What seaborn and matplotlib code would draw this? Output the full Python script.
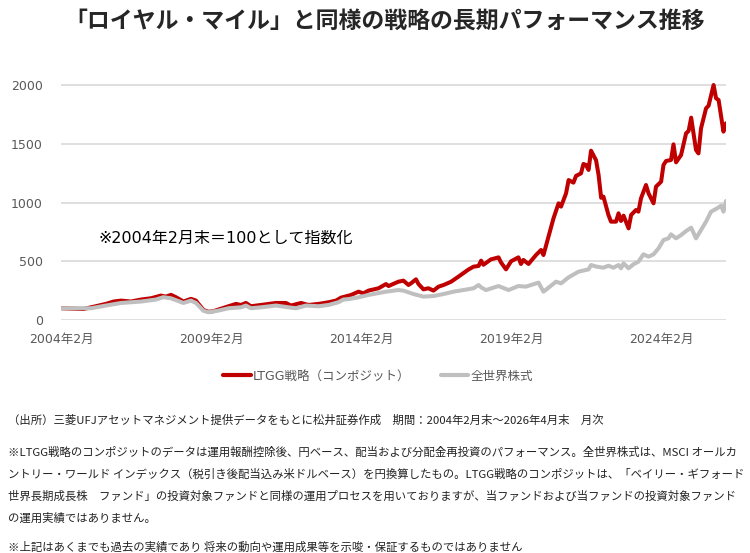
import pandas as pd
import numpy as np
import matplotlib
matplotlib.use("Agg")
import matplotlib.pyplot as plt
import seaborn as sns

# months counted from 2004-02 (0) up to 2026-04 (266)
red_months = [0, 9, 12, 18, 21, 24, 28, 32, 36, 40, 42, 44, 46, 49, 52, 54, 55, 57, 59, 61,
              63, 67, 70, 72, 74, 76, 80, 86, 90, 92, 96, 99, 103, 107, 110, 112, 116, 119,
              121, 123, 127, 130, 131, 135, 137, 139, 140, 142, 143, 145, 147, 149, 151, 153,
              156, 159, 163, 165, 167, 168, 169, 172, 175, 176, 178, 180, 183, 184, 185, 187,
              190, 192, 193, 195, 197, 199, 200, 202, 203, 205, 206, 208, 209, 210, 211, 212,
              214, 215, 216, 217, 219, 220, 222, 223, 224, 225, 227, 228, 230, 231, 232, 234,
              235, 237, 238, 240, 241, 242, 244, 245, 246, 248, 250, 251, 252, 254, 255, 256,
              258, 259, 261, 262, 263, 264, 265, 266]
red_vals = [100, 94, 108, 137, 157, 165, 157, 174, 185, 208, 199, 214, 194, 157, 180, 165, 137, 85, 70, 75,
            89, 117, 137, 128, 145, 117, 128, 145, 145, 123, 145, 128, 137, 151, 165, 190, 213, 241,
            227, 250, 270, 306, 289, 326, 335, 298, 312, 346, 306, 261, 270, 250, 284, 298,
            326, 369, 430, 454, 460, 505, 470, 516, 533, 490, 431, 500, 533, 477, 511, 477,
            553, 596, 553, 709, 865, 993, 965, 1078, 1191, 1169, 1226, 1248, 1328, 1319, 1277, 1441,
            1360, 1234, 1040, 1050, 894, 837, 837, 908, 843, 888, 780, 894, 936, 922, 1035, 1149,
            1078, 993, 1135, 1177, 1319, 1353, 1362, 1495, 1342, 1404, 1589, 1609, 1722, 1447, 1418, 1631,
            1801, 1824, 2000, 1887, 1872, 1731, 1603, 1674]

gray_months = [0, 12, 18, 24, 32, 38, 41, 44, 49, 52, 54, 57, 59, 63, 67, 72, 74, 76, 80, 86,
               91, 94, 98, 103, 107, 111, 113, 115, 119, 123, 130, 135, 137, 141, 145, 149, 153,
               157, 161, 165, 167, 168, 170, 175, 179, 183, 186, 191, 193, 198, 200, 203, 207,
               211, 212, 214, 217, 219, 221, 223, 224, 225, 227, 229, 231, 233, 235, 237, 239,
               241, 243, 244, 246, 248, 250, 252, 254, 256, 258, 260, 262, 264, 265, 266]
gray_vals = [100, 100, 123, 145, 157, 174, 194, 185, 145, 165, 145, 78, 66, 80, 100, 108, 123, 100, 108, 123,
             108, 100, 123, 117, 128, 151, 174, 178, 193, 213, 241, 255, 250, 221, 199, 204, 221,
             241, 255, 270, 298, 278, 255, 289, 255, 289, 284, 318, 241, 326, 312, 363, 411,
             431, 468, 455, 445, 462, 445, 468, 440, 482, 440, 474, 496, 559, 539, 559, 610,
             681, 695, 729, 695, 723, 757, 786, 695, 766, 837, 922, 945, 973, 922, 1013]

series_names = ["LTGG戦略（コンポジット）", "全世界株式"]
series_colors = ["#C00000", "#BFBFBF"]
tick_months = [0, 60, 120, 180, 240]
tick_labels = ["2004年2月", "2009年2月", "2014年2月", "2019年2月", "2024年2月"]
y_ticks = [0, 500, 1000, 1500, 2000]

start = pd.Period("2004-02", freq="M")


def to_dates(months):
    return [(start + m).to_timestamp() for m in months]


df = pd.concat([
    pd.DataFrame({"date": to_dates(red_months), "value": red_vals, "series": series_names[0]}),
    pd.DataFrame({"date": to_dates(gray_months), "value": gray_vals, "series": series_names[1]}),
])

sns.set_style("white")
plt.rcParams["font.family"] = ["DejaVu Sans", "Noto Sans CJK JP"]

fig = plt.figure(figsize=(7.5, 5.53), dpi=100)
ax = fig.add_axes([61 / 750, (553 - 320) / 553, (726 - 61) / 750, (320 - 73.25) / 553])

sns.lineplot(data=df, x="date", y="value", hue="series", hue_order=series_names,
             palette=series_colors, linewidth=2.9, ax=ax, legend=True)

ax.set_xlim(to_dates([0])[0], to_dates([266])[0])
ax.set_ylim(0, 2100)
ax.set_yticks(y_ticks)
ax.set_xticks(to_dates(tick_months))
ax.set_xticklabels(tick_labels)
ax.set_xlabel("")
ax.set_ylabel("")
ax.tick_params(axis="both", length=0, labelsize=9, colors="#595959")
ax.tick_params(axis="y", pad=13)
ax.tick_params(axis="x", pad=9)
ax.grid(axis="y", color="#D9D9D9", linewidth=1.2)
ax.set_axisbelow(True)
for s in ax.spines.values():
    s.set_visible(False)

ax.text(to_dates([15])[0], 698, "※2004年2月末＝100として指数化", fontsize=11.5,
        va="center", ha="left", color="#000000")

handles, labels = ax.get_legend_handles_labels()
ax.get_legend().remove()
for h in handles:
    h.set_linewidth(3.0)
fig.legend(handles, labels, loc="center", bbox_to_anchor=(378 / 750, 1 - 376 / 553), ncol=2,
           frameon=False, fontsize=9, handlelength=2.2, handletextpad=0.2, columnspacing=2.4,
           labelcolor="#595959")

fig.text(385 / 750, 1 - 21 / 553, "「ロイヤル・マイル」と同様の戦略の長期パフォーマンス推移",
         ha="center", va="center", fontsize=16.5, fontweight="bold", family="Noto Sans CJK JP")

notes = [
    (420, "（出所）三菱UFJアセットマネジメント提供データをもとに松井証券作成　期間：2004年2月末～2026年4月末　月次"),
    (452, "※LTGG戦略のコンポジットのデータは運用報酬控除後、円ベース、配当および分配金再投資のパフォーマンス。全世界株式は、MSCI オールカ"),
    (474, "ントリー・ワールド インデックス（税引き後配当込み米ドルベース）を円換算したもの。LTGG戦略のコンポジットは、「ベイリー・ギフォード"),
    (496, "世界長期成長株　ファンド」の投資対象ファンドと同様の運用プロセスを用いておりますが、当ファンドおよび当ファンドの投資対象ファンド"),
    (518, "の運用実績ではありません。"),
    (547, "※上記はあくまでも過去の実績であり 将来の動向や運用成果等を示唆・保証するものではありません"),
]
for y, txt in notes:
    fig.text(8 / 750, 1 - y / 553, txt, ha="left", va="center", fontsize=8.2,
             family="Noto Sans CJK JP", color="#222222")

fig.savefig("out.png", dpi=100)
